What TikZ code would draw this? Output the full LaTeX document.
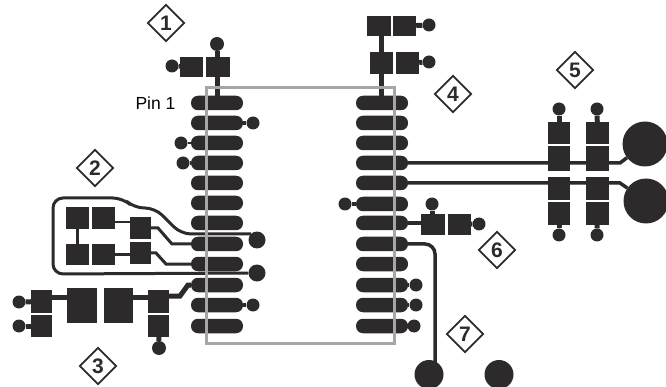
\documentclass[tikz,border=0pt]{standalone}
\usepackage{fontspec}
\setmainfont{Liberation Sans}
\usetikzlibrary{positioning,shapes.geometric,calc}
\definecolor{copper}{HTML}{2C2A2B}
\definecolor{outline}{HTML}{A6A6A6}
\tikzset{
  pad/.style={fill=copper,rounded corners=7pt,inner sep=0,minimum width=52,minimum height=14.5},
  smd/.style 2 args={fill=copper,inner sep=0,minimum width=#1,minimum height=#2},
  via/.style={circle,fill=copper,inner sep=0,minimum size=#1},
  via/.default=13,
  trace/.style={draw=copper,line width=#1},
  trace/.default=5,
  callout/.style={diamond,draw=copper,line width=1.8pt,aspect=1,inner sep=0,minimum size=37,
    text=copper,font=\fontsize{21}{21}\selectfont\bfseries},
}

\begin{document}
\begin{tikzpicture}[x=1pt,y=-1pt]
    \clip (0,0) rectangle (666,387);

    % left row of pads
    \draw (217,103) node[pad] (l1) {} ;
    \draw (217,123) node[pad] (l2) {} ;
    \draw (217,143) node[pad] (l3) {} ;
    \draw (217,163) node[pad] (l4) {} ;
    \draw (217,183) node[pad] (l5) {} ;
    \draw (217,203) node[pad] (l6) {} ;
    \draw (217,223) node[pad] (l7) {} ;
    \draw (217,244) node[pad] (l8) {} ;
    \draw (217,264) node[pad] (l9) {} ;
    \draw (217,285) node[pad] (l10) {} ;
    \draw (217,305) node[pad] (l11) {} ;
    \draw (217,326) node[pad] (l12) {} ;

    % right row of pads
    \draw (382,103) node[pad] (r1) {} ;
    \draw (382,123) node[pad] (r2) {} ;
    \draw (382,143) node[pad] (r3) {} ;
    \draw (382,163) node[pad] (r4) {} ;
    \draw (382,183) node[pad] (r5) {} ;
    \draw (382,204) node[pad] (r6) {} ;
    \draw (382,223) node[pad] (r7) {} ;
    \draw (382,244) node[pad] (r8) {} ;
    \draw (382,264) node[pad] (r9) {} ;
    \draw (382,285) node[pad] (r10) {} ;
    \draw (382,305) node[pad] (r11) {} ;
    \draw (382,326) node[pad] (r12) {} ;

    % block 1
    \draw (172,66) node[via=13] (v1a) {} ;
    \draw (217,44) node[via=14] (v1b) {} ;
    \draw (191.5,67) node[smd={23}{20}] (c1a) {} ;
    \draw (218,67) node[smd={24}{20}] (c1b) {} ;
    \draw[trace] (v1a) -- (c1a);
    \draw[trace] (v1b) -- (v1b |- c1b.north);
    \draw[trace] (v1b |- c1b.south) -- (v1b |- l1.north);

    % vias on the left row
    \draw (253,123) node[via=13] (v2) {} ;
    \draw (181,143) node[via=13] (v3) {} ;
    \draw (183,163) node[via=13] (v4) {} ;
    \draw (253,305) node[via=13] (v11) {} ;
    \draw[trace=3.5] (l2) -- (v2);
    \draw[trace=2.5] (v3) -- (l3);
    \draw[trace=4] (v4) -- (l4);
    \draw[trace=4] (l11) -- (v11);

    % block 2
    \draw (77.5,218) node[smd={23}{22}] (c2a) {} ;
    \draw (103.5,218) node[smd={23}{22}] (c2b) {} ;
    \draw (77.5,254.5) node[smd={23}{20}] (c2c) {} ;
    \draw (103.5,254.5) node[smd={23}{20}] (c2d) {} ;
    \draw (140.5,228) node[smd={21}{22}] (c2e) {} ;
    \draw (140.5,253) node[smd={21}{22}] (c2f) {} ;
    \draw (257,240) node[via=17] (v8) {} ;
    \draw (257,273) node[via=17] (v9) {} ;
    \draw[trace=2.5] (c2a) -- (c2c);
    \draw[trace=2.5] (c2b.east |- 0,222) -- (c2e.west |- 0,222);
    \draw[trace=2.5] (c2d) -- (c2f.west |- c2d);
    \draw[trace=3] (c2e) -- (158,228) -- (172,244) -- (l8);
    \draw[trace=3] (c2f) -- (156,253) -- (166,264) -- (l9);
    \draw[trace=3,rounded corners=10pt] (v8.west |- 0,234) -- (v8 |- 0,234) -- (181,234) -- (155,208)
      -- (134,208) -- (123,198) -- (53,198) -- (53,274) -- (v9);

    % block 3
    \draw (19,302) node[via=13] (v3a) {} ;
    \draw (19,326) node[via=13] (v3b) {} ;
    \draw (159,348) node[via=14] (v3c) {} ;
    \draw (41.5,301.5) node[smd={21}{23}] (c3a) {} ;
    \draw (41.5,326) node[smd={21}{22}] (c3b) {} ;
    \draw (82,305.5) node[smd={30}{35}] (c3c) {} ;
    \draw (118.5,305.5) node[smd={29}{35}] (c3d) {} ;
    \draw (158.5,301.5) node[smd={21}{23}] (c3e) {} ;
    \draw (158.5,326) node[smd={21}{22}] (c3f) {} ;
    \draw[trace] (v3a) -- (c3a);
    \draw[trace] (v3b) -- (c3b);
    \draw[trace] (c3a.east |- 0,297) -- (c3c.west |- 0,297);
    \draw[trace] (c3d.east |- 0,297) -- (c3e.west |- 0,297);
    \draw[trace] (c3e.east |- 0,296) -- (180,296) -- (188,285) -- (l10);
    \draw[trace] (c3f) -- (v3c);

    % block 4
    \draw (379,26) node[smd={24}{20}] (c4a) {} ;
    \draw (404.5,26) node[smd={23}{20}] (c4b) {} ;
    \draw (381.5,63) node[smd={23}{22}] (c4c) {} ;
    \draw (407.5,63) node[smd={23}{22}] (c4d) {} ;
    \draw (429,25) node[via=13] (v4a) {} ;
    \draw (429,62) node[via=13] (v4b) {} ;
    \draw[trace] (c4b) -- (v4a);
    \draw[trace] (c4d) -- (v4b);
    \draw[trace] (c4c |- c4a.south) -- (c4c.north);
    \draw[trace] (c4c) -- (c4c |- r1);

    % block 5
    \draw (559,133) node[smd={22}{22}] (c5a) {} ;
    \draw (559,158.5) node[smd={22}{25}] (c5b) {} ;
    \draw (559,188.5) node[smd={22}{23}] (c5c) {} ;
    \draw (559,213.5) node[smd={22}{23}] (c5d) {} ;
    \draw (597.5,133) node[smd={23}{22}] (c5e) {} ;
    \draw (597.5,158.5) node[smd={23}{25}] (c5f) {} ;
    \draw (597.5,188.5) node[smd={23}{23}] (c5g) {} ;
    \draw (597.5,213.5) node[smd={23}{23}] (c5h) {} ;
    \draw (559,109) node[via=13] (v5a) {} ;
    \draw (597,109) node[via=13] (v5b) {} ;
    \draw (559,235) node[via=13] (v5c) {} ;
    \draw (597,235) node[via=13] (v5d) {} ;
    \draw (645,144) node[via=45] (v5e) {} ;
    \draw (646,201) node[via=45] (v5f) {} ;
    \draw[trace] (v5a) -- (c5a);
    \draw[trace] (v5b) -- (c5e);
    \draw[trace] (c5d) -- (v5c);
    \draw[trace] (c5h) -- (v5d);
    \draw[trace=3.5] (r4) -- (620,163) -- (v5e);
    \draw[trace=3.5] (r5) -- (620,183) -- (v5f);

    % block 6
    \draw (345,204) node[via=13] (v6a) {} ;
    \draw (433,224.5) node[smd={24}{21}] (c6a) {} ;
    \draw (459.5,224.5) node[smd={23}{21}] (c6b) {} ;
    \draw (432,204) node[via=13] (v6b) {} ;
    \draw (479,224) node[via=13] (v6c) {} ;
    \draw[trace=3.5] (v6a) -- (r6);
    \draw[trace=4] (r7) -- (c6a.west |- r7);
    \draw[trace] (v6b) -- (v6b |- c6a.north);
    \draw[trace] (c6b) -- (v6c);

    % block 7
    \draw (429,374.5) node[via=29] (v7a) {} ;
    \draw (499,374.5) node[via=29] (v7b) {} ;
    \draw[trace=3.5,rounded corners=10pt] (r8) -- (435,244) -- (435,365);

    % vias on the right row
    \draw (416,285) node[via=13] (v10) {} ;
    \draw (416,305) node[via=13] (v11r) {} ;
    \draw (414,326) node[via=13] (v12) {} ;
    \draw[trace=4] (r10) -- (v10);
    \draw[trace=4] (r11) -- (v11r);
    \draw[trace=4] (r12) -- (v12);

    % outline of the part, over the pads
    \draw[outline,line width=3] (206,88) rectangle (394,343);

    \draw (155.5,103) node[font=\fontsize{17.5}{17.5}\selectfont,text=black] (pin) {Pin 1} ;
    \draw (166,23) node[callout] (m1) {1} ;
    \draw (95,168) node[callout] (m2) {2} ;
    \draw (98,366) node[callout] (m3) {3} ;
    \draw (453,94) node[callout] (m4) {4} ;
    \draw (575,70) node[callout] (m5) {5} ;
    \draw (497,250) node[callout] (m6) {6} ;
    \draw (465,334) node[callout] (m7) {7} ;
  \end{tikzpicture}
\end{document}
